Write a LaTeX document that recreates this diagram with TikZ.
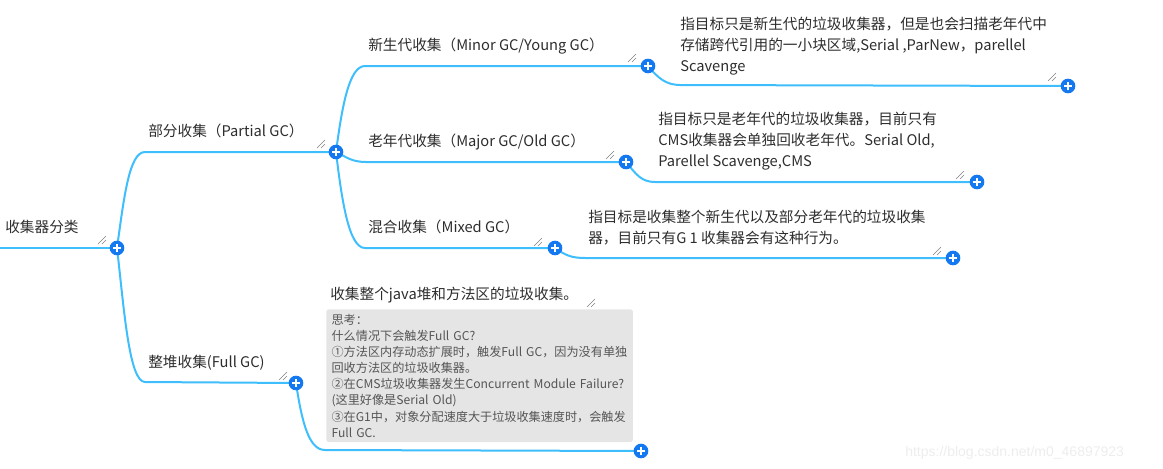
\documentclass[tikz,border=0pt]{standalone}
\usepackage{fontspec}
\setmainfont{Noto Sans CJK SC}
\newfontfamily\wmfont{Liberation Sans}
\usetikzlibrary{backgrounds}
\definecolor{linkblue}{RGB}{62,190,252}
\definecolor{btnblue}{RGB}{20,120,240}
\definecolor{inkgray}{RGB}{45,45,45}
\definecolor{notegray}{RGB}{229,229,229}
\definecolor{notetext}{RGB}{85,85,85}
\begin{document}
\begin{tikzpicture}[x=0.75pt, y=-0.75pt,
    topic/.style={anchor=base west, inner sep=0pt, text=inkgray, align=left,
      font=\fontsize{11}{15.4}\selectfont},
    btn/.style={circle, fill=btnblue, inner sep=0pt, minimum size=11pt,
      path picture={\draw[white, line width=1.6pt]
        ([xshift=-3pt]path picture bounding box.center) -- ([xshift=3pt]path picture bounding box.center)
        ([yshift=-3pt]path picture bounding box.center) -- ([yshift=3pt]path picture bounding box.center);}},
    branch/.style={draw=linkblue, line width=1.5pt},
    grip/.pic={\draw[gray, line width=0.4pt] (-4,4) -- (4,-4) (0,4) -- (4,0);}]
  \useasboundingbox (0,0) rectangle (1163,468);

  % buttons
  \node [btn] (root) at (117,248) {};
  \node [btn] (partial) at (336,152) {};
  \node [btn] (full) at (296,383) {};
  \node [btn] (minor) at (648,66) {};
  \node [btn] (major) at (626,162) {};
  \node [btn] (mixed) at (555,248) {};
  \node [btn] (minorx) at (1068,86) {};
  \node [btn] (majorx) at (977,182) {};
  \node [btn] (mixedx) at (953,258) {};
  \node [btn] (fullx) at (641,451) {};

  % topics (multi-line ones sit on their last baseline)
  \node [topic] (rootT) at (5,232) {收集器分类};
  \node [topic] (partialT) at (148,136) {部分收集（Partial GC）};
  \node [topic] (fullT) at (148,367) {整堆收集(Full GC)};
  \node [topic] (minorT) at (368,50) {新生代收集（Minor GC/Young GC）};
  \node [topic] (majorT) at (368,146) {老年代收集（Major GC/Old GC）};
  \node [topic] (mixedT) at (368,232) {混合收集（Mixed GC）};
  \node [topic] (minorxT) at (680,71) {指目标只是新生代的垃圾收集器，但是也会扫描老年代中\\存储跨代引用的一小块区域,Serial ,ParNew，parellel\\Scavenge};
  \node [topic] (majorxT) at (658,166) {指目标只是老年代的垃圾收集器，目前只有\\CMS收集器会单独回收老年代。Serial Old,\\Parellel Scavenge,CMS};
  \node [topic] (mixedxT) at (588,243) {指目标是收集整个新生代以及部分老年代的垃圾收集\\器，目前只有G 1 收集器会有这种行为。};
  \node [topic] (fullxT) at (330,299) {收集整个java堆和方法区的垃圾收集。};
  \node [anchor=north west, fill=notegray, rounded corners=2pt, inner xsep=4pt, inner ysep=3.6pt,
    minimum width=229.5pt, minimum height=99pt, text width=222pt, align=left, text=notetext,
    font=\fontsize{9.1}{12.1}\selectfont] (note) at (326,309)
    {思考：\\什么情况下会触发Full GC?\\①方法区内存动态扩展时，触发Full GC，因为没有单独\\回收方法区的垃圾收集器。\\②在CMS垃圾收集器发生Concurrent Module Failure?\\(这里好像是Serial Old)\\③在G1中，对象分配速度大于垃圾收集速度时，会触发\\Full GC.};

  % resize grips
  \foreach \gx/\gy in {102/240, 321/144, 632/58, 610/155, 538/242, 283/376, 1052/77, 960/175, 937/251, 591/303}
    \pic at (\gx,\gy) {grip};

  \node [anchor=base west, inner sep=0pt, text=black!7, font=\wmfont\fontsize{10.5}{12}\selectfont] (wm) at (905,456) {https://blog.csdn.net/m0\_46897923};

  % connectors
  \begin{scope}[on background layer]
    \coordinate (rootL) at (0,248);
    \coordinate (p1) at (145,152);
    \coordinate (f1) at (145,382);
    \coordinate (m1) at (365,66);
    \coordinate (j1) at (366,162);
    \coordinate (x1) at (365,248);
    \coordinate (mc) at (680,85);
    \coordinate (jc) at (655,182);
    \coordinate (xc) at (585,258);
    \coordinate (fc) at (325,450);
    \draw [branch] (rootL) -- (root.center);
    \draw [branch] (root.center) .. controls +(7,-50) and +(-16,0) .. (p1) -- (partial.center);
    \draw [branch] (root.center) .. controls +(7,60) and +(-16,0) .. (f1) -- (full.center);
    \draw [branch] (partial.center) .. controls +(6,-45) and +(-16,0) .. (m1) -- (minor.center);
    \draw [branch] (partial.center) .. controls +(10,5) and +(-14,0) .. (j1) -- (major.center);
    \draw [branch] (partial.center) .. controls +(6,50) and +(-16,0) .. (x1) -- (mixed.center);
    \draw [branch] (minor.center) .. controls +(10,12) and +(-14,0) .. (mc) -- (minorx.center);
    \draw [branch] (major.center) .. controls +(10,12) and +(-14,0) .. (jc) -- (majorx.center);
    \draw [branch] (mixed.center) .. controls +(10,7) and +(-14,0) .. (xc) -- (mixedx.center);
    \draw [branch] (full.center) .. controls +(6,40) and +(-16,0) .. (fc) -- (fullx.center);
  \end{scope}
\end{tikzpicture}
\end{document}
